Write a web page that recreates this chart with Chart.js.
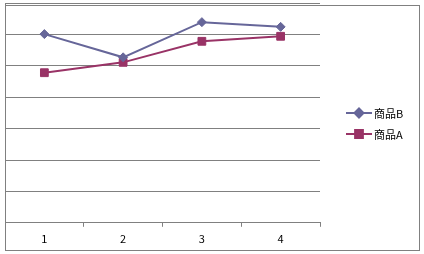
<!DOCTYPE html>
<html>
<head>
<meta charset="utf-8">
<script src="https://cdn.jsdelivr.net/npm/chart.js@4"></script>
<style>
	html, body { margin: 0; padding: 0; background: #fff; }
	#wrap { width: 424px; height: 254px; }
</style>
</head>
<body>
<div id="wrap"><canvas id="chart" width="424" height="254"></canvas></div>
<script>
// categories and series values
const categories = ["1", "2", "3", "4"];
const seriesNames = ["商品B", "商品A"];
const valuesB = [60.1, 52.7, 63.9, 62.4];
const valuesA = [47.8, 51.1, 57.8, 59.4];
const yMin = 0;
const yMax = 70;
const yStep = 10;

const colorB = "#666699";
const colorA = "#993366";
const gridColor = "#808080";
const cjkFont = "'Noto Sans CJK JP', 'Noto Sans', sans-serif";

// outer frame + legend drawn by hand (line with marker, like the original)
const framePlugin = {
	id: "frame",
	beforeDraw(chart) {
		const ctx = chart.ctx;
		ctx.save();
		ctx.fillStyle = "#fff";
		ctx.fillRect(0, 0, chart.width, chart.height);
		ctx.strokeStyle = gridColor;
		ctx.lineWidth = 1;
		ctx.strokeRect(5.5, 5.5, 414, 245);
		ctx.restore();
	},
	afterDraw(chart) {
		const ctx = chart.ctx;
		ctx.save();
		chart.data.datasets.forEach((ds, i) => {
			const y = 113 + i * 21;
			ctx.strokeStyle = ds.borderColor;
			ctx.lineWidth = 2;
			ctx.beginPath();
			ctx.moveTo(346, y);
			ctx.lineTo(372, y);
			ctx.stroke();
			Chart.helpers.drawPoint(ctx, {
				pointStyle: ds.pointStyle,
				radius: ds.pointRadius,
				borderWidth: 1
			}, 359, y);
			ctx.fillStyle = ds.borderColor;
			ctx.fill();
			ctx.fillStyle = "#000";
			ctx.font = "11px " + cjkFont;
			ctx.textBaseline = "middle";
			ctx.fillText(ds.label, 374, y + 1);
		});
		ctx.restore();
	}
};

const ctx = document.getElementById("chart").getContext("2d");
const myChart = new Chart(ctx, {
	type: "line",
	data: {
		labels: categories,
		datasets: [
			{
				label: seriesNames[0],
				data: valuesB,
				borderColor: colorB,
				backgroundColor: colorB,
				borderWidth: 2,
				pointStyle: "rectRot",
				pointRadius: 4.5,
				pointBorderWidth: 1,
				tension: 0,
			},
			{
				label: seriesNames[1],
				data: valuesA,
				borderColor: colorA,
				backgroundColor: colorA,
				borderWidth: 2,
				pointStyle: "rect",
				pointRadius: 5.5,
				pointBorderWidth: 1,
				tension: 0,
			},
		],
	},
	options: {
		responsive: false,
		animation: false,
		layout: {
			autoPadding: false,
			padding: { left: 5, right: 104, top: 3, bottom: 4 },
		},
		scales: {
			x: {
				offset: true,
				grid: {
					offset: true,
					drawOnChartArea: false,
					drawTicks: true,
					tickLength: 4,
					color: gridColor,
				},
				border: { display: true, color: gridColor },
				ticks: {
					padding: 5,
					color: "#000",
					font: { size: 11, family: cjkFont },
				},
			},
			y: {
				min: yMin,
				max: yMax,
				ticks: { display: false, stepSize: yStep },
				grid: { color: gridColor, drawTicks: false },
				border: { display: true, color: gridColor },
			},
		},
		plugins: {
			legend: { display: false },
			tooltip: { enabled: false },
		},
	},
	plugins: [framePlugin],
});
</script>
</body>
</html>
